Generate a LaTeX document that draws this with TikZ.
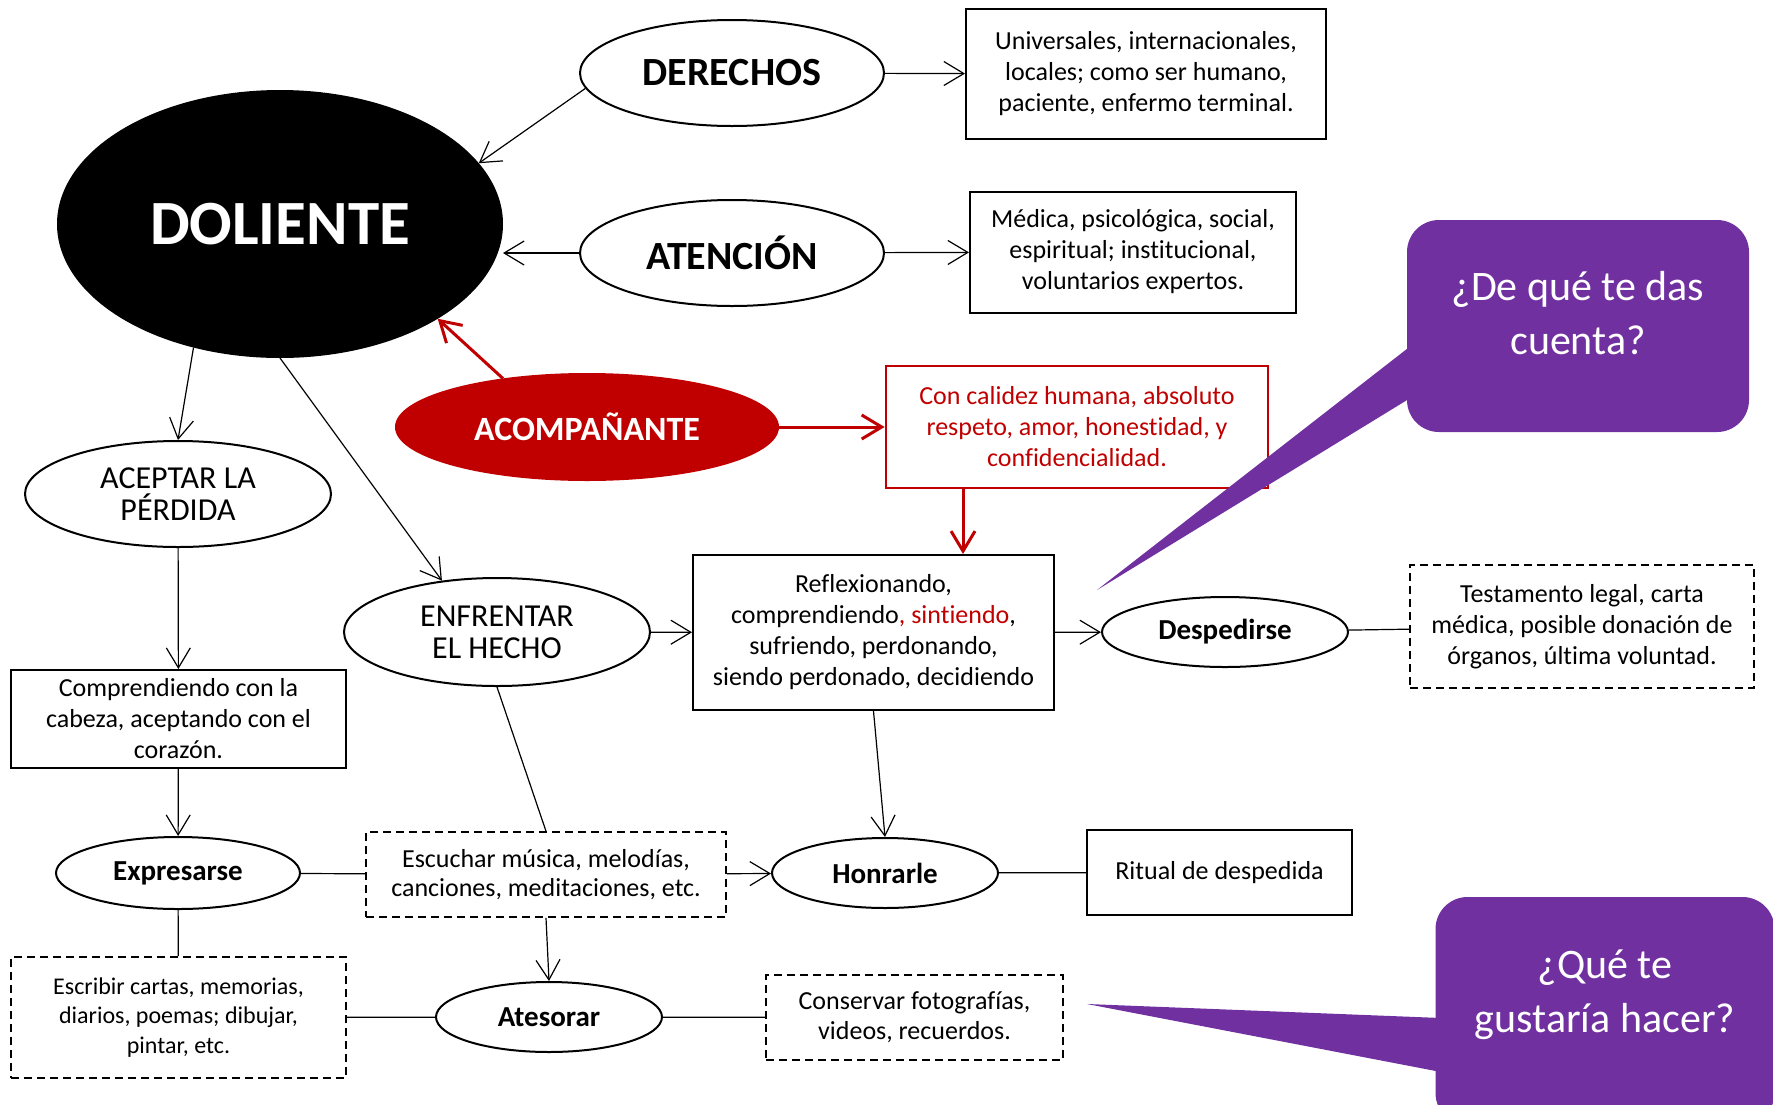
\documentclass[tikz,border=0pt]{standalone}
\usepackage{fontspec}
\setmainfont{Carlito}[Ligatures=NoCommon]
\usetikzlibrary{shapes.geometric, arrows.meta, calc}

\definecolor{rojo}{HTML}{C00000}
\definecolor{morado}{HTML}{7030A0}

\tikzset{
	oval/.style={ellipse, draw, line width=1pt, inner sep=0pt, align=center},
	ovalb/.style={oval, font=\fontsize{14.5}{14.5}\selectfont\bfseries},
	caja/.style={rectangle, draw, line width=1pt, inner sep=2pt, align=center, font=\fontsize{13}{15.5}\selectfont},
	cajad/.style={caja, dash pattern=on 4pt off 2.5pt, line width=0.8pt},
	link/.style={line width=0.6pt},
	linkarrow/.style={link, -{Straight Barb[length=10pt,width=12pt]}},
	redarrow/.style={draw=rojo, line width=1.5pt, -{Straight Barb[length=10pt,width=12pt]}},
	globo/.style={fill=morado, rounded corners=16pt, inner sep=0pt},
	globotext/.style={text=white, align=center, font=\fontsize{21}{27}\selectfont},
}

\begin{document}
\begin{tikzpicture}[x=0.5pt, y=-0.5pt]
	\clip (0,0) rectangle (1773,1104);

	% ovals
	\node [oval, fill=black, text=white, minimum width=222pt, minimum height=133pt, font=\fontsize{31.5}{31.5}\selectfont\bfseries] (doliente) at (280,224) {DOLIENTE};
	\node [oval, minimum width=152pt, minimum height=53pt, font=\fontsize{20}{20}\selectfont\bfseries] (derechos) at (732,73) {DERECHOS};
	\node [oval, minimum width=152pt, minimum height=53pt, font=\fontsize{20}{20}\selectfont\bfseries] (atencion) at (732,253) {ATENCIÓN};
	\node [oval, fill=rojo, draw=rojo, text=white, minimum width=191pt, minimum height=53pt, font=\fontsize{17}{17}\selectfont\bfseries] (acompanante) at (587,427) {ACOMPAÑANTE};
	\node [oval, minimum width=153pt, minimum height=53pt, font=\fontsize{16}{16}\selectfont] (aceptar) at (178,494) {ACEPTAR LA\\PÉRDIDA};
	\node [oval, minimum width=153pt, minimum height=54pt, font=\fontsize{16}{16}\selectfont] (enfrentar) at (497,632) {ENFRENTAR\\EL HECHO};
	\node [ovalb, minimum width=123pt, minimum height=35pt] (despedirse) at (1225,632) {Despedirse};
	\node [ovalb, minimum width=122pt, minimum height=36pt] (expresarse) at (178,873) {Expresarse};
	\node [ovalb, minimum width=113pt, minimum height=35pt] (honrarle) at (885,873) {Honrarle};
	\node [ovalb, minimum width=113pt, minimum height=35pt] (atesorar) at (549,1017) {Atesorar};

	% boxes
	\node [caja, minimum width=180pt, minimum height=65pt] (universales) at (1146,74) {Universales, internacionales,\\locales; como ser humano,\\paciente, enfermo terminal.};
	\node [caja, minimum width=163pt, minimum height=60.5pt] (medica) at (1133,252) {Médica, psicológica, social,\\espiritual; institucional,\\voluntarios expertos.};
	\node [caja, draw=rojo, text=rojo, line width=1.4pt, minimum width=191pt, minimum height=61pt] (calidez) at (1077,427) {Con calidez humana, absoluto\\respeto, amor, honestidad, y\\confidencialidad.};
	\node [caja, minimum width=180.5pt, minimum height=77.5pt] (reflexionando) at (873.5,632.5) {Reflexionando,\\comprendiendo{\color{rojo}, sintiendo},\\sufriendo, perdonando,\\siendo perdonado, decidiendo};
	\node [cajad, minimum width=172pt, minimum height=61.5pt] (testamento) at (1582,626.5) {Testamento legal, carta\\médica, posible donación de\\órganos, última voluntad.};
	\node [caja, minimum width=167.5pt, minimum height=49pt] (comprendiendo) at (178.5,719) {Comprendiendo con la\\cabeza, aceptando con el\\corazón.};
	\node [cajad, minimum width=180pt, minimum height=42.5pt, font=\fontsize{13}{14.7}\selectfont] (escuchar) at (546,874.5) {Escuchar música, melodías,\\canciones, meditaciones, etc.};
	\node [caja, minimum width=132.5pt, minimum height=42.5pt] (ritual) at (1219.5,872.5) {Ritual de despedida};
	\node [cajad, minimum width=167.5pt, minimum height=60.5pt, font=\fontsize{12}{14.7}\selectfont] (escribir) at (178.5,1017.5) {Escribir cartas, memorias,\\diarios, poemas; dibujar,\\pintar, etc.};
	\node [cajad, minimum width=148.5pt, minimum height=42.5pt, font=\fontsize{13}{15.2}\selectfont] (conservar) at (914.5,1017.5) {Conservar fotografías,\\videos, recuerdos.};

	% connectors
	\draw [linkarrow] (derechos.186) -- (doliente.17);
	\draw [linkarrow] (derechos) -- (universales);
	\draw [linkarrow] (atencion.west) -- (atencion.west -| doliente.east);
	\draw [linkarrow] (atencion) -- (medica);
	\draw [redarrow] (acompanante.150) -- (doliente.-31);
	\draw [redarrow] (acompanante) -- (calidez);
	\draw [redarrow] ([xshift=-57pt]calidez.south) -- ([xshift=-57pt]calidez.south |- reflexionando.north);
	\draw [linkarrow] (doliente.235) -- (aceptar.north);
	\draw [linkarrow] (doliente.south) -- (enfrentar.137);
	\draw [linkarrow] (aceptar) -- (comprendiendo);
	\draw [linkarrow] (comprendiendo) -- (expresarse);
	\draw [linkarrow] (enfrentar) -- (reflexionando);
	\draw [link] (enfrentar.south) -- (escuchar.north);
	\draw [linkarrow] (reflexionando) -- (despedirse);
	\draw [link] (despedirse) -- (testamento);
	\draw [linkarrow] (reflexionando.south) -- (honrarle.north);
	\draw [link] (expresarse) -- (escuchar);
	\draw [linkarrow] (escuchar) -- (honrarle);
	\draw [link] (honrarle) -- (ritual);
	\draw [link] (expresarse) -- (escribir);
	\draw [linkarrow] (escuchar.south) -- (atesorar.north);
	\draw [link] (escribir) -- (atesorar);
	\draw [link] (atesorar) -- (conservar);

	% callouts
	\coordinate (punta1) at (1097,590);
	\coordinate (punta2) at (1087,1004);
	\node [globo, minimum width=171pt, minimum height=106pt] (globo1) at (1578,326) {};
	\fill [morado] (1412,345) -- (punta1) -- (1412,397) -- cycle;
	\node [globotext] (pregunta1) at (1578,313) {¿De qué te das\\cuenta?};
	\node [globo, minimum width=169.5pt, minimum height=114pt] (globo2) at (1605,1011) {};
	\fill [morado] (1441,1018) -- (punta2) -- (1441,1072) -- cycle;
	\node [globotext] (pregunta2) at (1605,995) {¿Qué te\\gustaría hacer?};
\end{tikzpicture}
\end{document}
